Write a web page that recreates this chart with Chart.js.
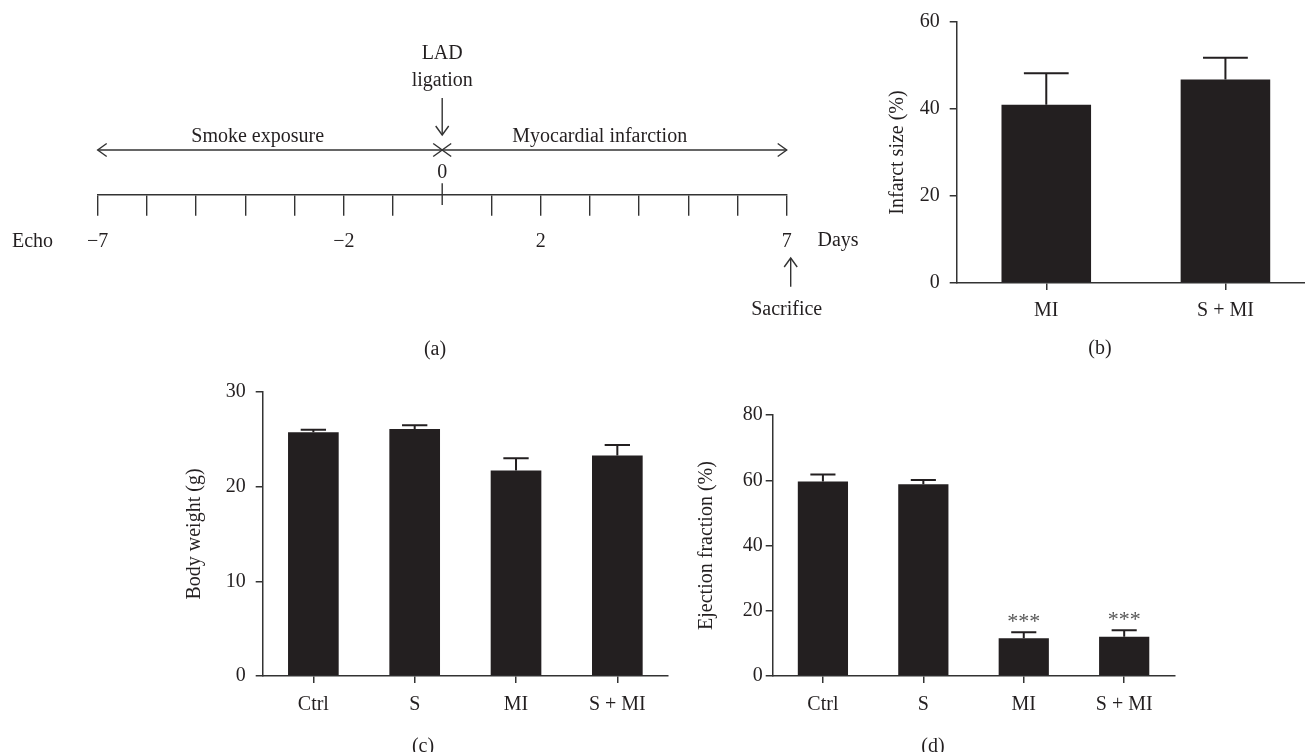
<!DOCTYPE html>
<html><head><meta charset="utf-8">
<script src="https://cdn.jsdelivr.net/npm/chart.js@4.4.1/dist/chart.umd.min.js"></script>
<style>
html,body{margin:0;padding:0;overflow:hidden;background:#fff;width:1305px;height:752px;position:relative}
canvas{position:absolute}
.cap{position:absolute;font:20px 'Liberation Serif',serif;color:#231f20;transform:translate(-50%,-50%);line-height:1;white-space:nowrap}
</style></head><body>
<canvas id="ca" width="870" height="360" style="left:0;top:0"></canvas>
<canvas id="cb" width="480" height="370" style="left:840px;top:0"></canvas>
<canvas id="cc" width="520" height="382" style="left:160px;top:370px"></canvas>
<canvas id="cd" width="520" height="382" style="left:680px;top:370px"></canvas>
<div class="cap" style="left:435px;top:348px">(a)</div>
<div class="cap" style="left:1100px;top:347px">(b)</div>
<div class="cap" style="left:423px;top:745px">(c)</div>
<div class="cap" style="left:933px;top:745px">(d)</div>
<script>
// ---- data ----
const timelineDays = [-7,-6,-5,-4,-3,-2,-1,0,1,2,3,4,5,6,7];
const labelledDays = [-7,-2,2,7];
const phaseLabels = ['Smoke exposure','Myocardial infarction'];
const phaseStart = [-7,0];
const phaseEnd = [0,7];
const phaseTextDay = [-3.75,3.2];
const ligationDay = 0;
const sacrificeDay = 7;

const infarctGroups = ['MI','S + MI'];
const infarctMean = [41.0, 46.8];
const infarctSem = [7.2, 5.0];
const infarctTicks = [0,20,40,60];

const groups = ['Ctrl','S','MI','S + MI'];
const bodyWeightMean = [25.75, 26.1, 21.7, 23.3];
const bodyWeightSem = [0.25, 0.4, 1.3, 1.1];
const bodyWeightTicks = [0,10,20,30];

const efMean = [59.6, 58.8, 11.6, 12.0];
const efSem = [2.2, 1.3, 1.8, 2.0];
const efSig = ['','','***','***'];
const efTicks = [0,20,40,60,80];

// ---- style ----
const serif = "'Liberation Serif','DejaVu Serif',serif";
const ink = '#231f20';
const axisInk = '#333333';
const font20 = {family: serif, size: 20};

function fmtDay(v){ return v < 0 ? '\u2212' + Math.abs(v) : String(v); }

function arrowHead(ctx, x, y, dx, dy){
  const L = 9, W = 6.5;
  const px = -dy, py = dx;
  ctx.beginPath();
  ctx.moveTo(x - dx*L + px*W, y - dy*L + py*W);
  ctx.lineTo(x, y);
  ctx.lineTo(x - dx*L - px*W, y - dy*L - py*W);
  ctx.stroke();
}

const timelinePlugin = {
  id: 'timeline',
  afterDraw(chart){
    const ctx = chart.ctx, xs = chart.scales.x, base = chart.chartArea.bottom;
    ctx.save();
    ctx.strokeStyle = axisInk; ctx.lineWidth = 1.4; ctx.fillStyle = ink;
    ctx.font = '20px ' + serif; ctx.textAlign = 'center'; ctx.textBaseline = 'middle';
    // day-0 tick crossing the baseline
    const x0 = xs.getPixelForValue(ligationDay);
    ctx.beginPath(); ctx.moveTo(x0, base - 11); ctx.lineTo(x0, base + 10.7); ctx.stroke();
    ctx.fillText(fmtDay(ligationDay), x0, base - 22);
    // phases
    const rowY = base - 44.3;
    phaseLabels.forEach((lab, i) => {
      const a = xs.getPixelForValue(phaseStart[i]), b = xs.getPixelForValue(phaseEnd[i]);
      ctx.beginPath(); ctx.moveTo(a, rowY); ctx.lineTo(b, rowY); ctx.stroke();
      arrowHead(ctx, a, rowY, -1, 0);
      arrowHead(ctx, b, rowY, 1, 0);
      ctx.fillText(lab, xs.getPixelForValue(phaseTextDay[i]), base - 57.5);
    });
    // LAD ligation
    ctx.fillText('LAD', x0, base - 140.5);
    ctx.fillText('ligation', x0, base - 113.5);
    ctx.beginPath(); ctx.moveTo(x0, base - 96.3); ctx.lineTo(x0, base - 59.3); ctx.stroke();
    arrowHead(ctx, x0, base - 59.3, 0, 1);
    // Sacrifice
    const x7 = xs.getPixelForValue(sacrificeDay);
    ctx.beginPath(); ctx.moveTo(x7 + 4, base + 92.4); ctx.lineTo(x7 + 4, base + 63.7); ctx.stroke();
    arrowHead(ctx, x7 + 4, base + 63.7, 0, -1);
    ctx.fillText('Sacrifice', x7, base + 115);
    // side labels
    ctx.fillText('Echo', 32.5, base + 47.5);
    ctx.fillText('Days', 838, base + 46.5);
    ctx.restore();
  }
};

new Chart(document.getElementById('ca'), {
  type: 'scatter',
  data: {datasets: [{data: timelineDays.map(d => ({x: d, y: 0})), pointRadius: 0, showLine: false}]},
  options: {
    responsive: false, animation: false,
    layout: {padding: {left: 97.7, right: 83.3, top: 20, bottom: 0}},
    plugins: {legend: {display: false}, tooltip: {enabled: false}},
    scales: {
      y: {display: false, min: 0, max: 1},
      x: {
        type: 'linear', min: -7, max: 7,
        afterBuildTicks: s => { s.ticks = timelineDays.map(v => ({value: v})); },
        afterFit: s => { s.height = 165.7; },
        border: {display: true, color: axisInk, width: 1.4},
        grid: {drawOnChartArea: false, drawTicks: true, tickLength: 21.4, lineWidth: 1.4,
               color: c => (c.tick && c.tick.value === ligationDay) ? 'rgba(0,0,0,0)' : axisInk},
        ticks: {autoSkip: false, maxRotation: 0, padding: 14, color: ink, font: font20,
                callback: v => labelledDays.includes(v) ? fmtDay(v) : ''}
      }
    }
  },
  plugins: [timelinePlugin]
});

const errPlugin = {
  id: 'errbars',
  afterDatasetsDraw(chart, args, opts){
    const meta = chart.getDatasetMeta(0), ys = chart.scales.y, ctx = chart.ctx;
    const means = chart.data.datasets[0].data;
    ctx.save();
    ctx.strokeStyle = ink; ctx.lineWidth = 2;
    meta.data.forEach((bar, i) => {
      const top = ys.getPixelForValue(means[i] + opts.sem[i]);
      const half = bar.width / 4;
      ctx.beginPath();
      ctx.moveTo(bar.x, bar.y); ctx.lineTo(bar.x, top);
      ctx.moveTo(bar.x - half, top); ctx.lineTo(bar.x + half, top);
      ctx.stroke();
      if (opts.sig && opts.sig[i]) {
        ctx.fillStyle = '#555555'; ctx.font = '22px ' + serif;
        ctx.textAlign = 'center'; ctx.textBaseline = 'middle';
        ctx.fillText(opts.sig[i], bar.x, top - 10);
      }
    });
    ctx.restore();
  }
};

function barChart(id, labels, means, sem, sig, ticks, title, g){
  return new Chart(document.getElementById(id), {
    type: 'bar',
    data: {labels: labels, datasets: [{data: means, backgroundColor: ink, borderWidth: 0,
           barPercentage: 1, categoryPercentage: 0.5}]},
    options: {
      responsive: false, animation: false,
      layout: {padding: {left: 0, right: g.padRight, top: g.padTop, bottom: 0}},
      plugins: {legend: {display: false}, tooltip: {enabled: false}, errbars: {sem: sem, sig: sig}},
      scales: {
        x: {
          afterFit: s => { s.height = g.xAxisHeight; },
          border: {display: true, color: axisInk, width: 1.5},
          grid: {offset: false, drawOnChartArea: false, tickLength: 7, color: axisInk, lineWidth: 1.5},
          ticks: {color: ink, font: font20, padding: g.xTickPad, maxRotation: 0}
        },
        y: {
          min: ticks[0], max: ticks[ticks.length - 1],
          afterBuildTicks: s => { s.ticks = ticks.map(v => ({value: v})); },
          afterFit: s => { s.width = g.yAxisWidth; },
          border: {display: true, color: axisInk, width: 1.5},
          grid: {drawOnChartArea: false, tickLength: 7, color: axisInk, lineWidth: 1.5},
          ticks: {color: ink, font: font20, padding: g.yTickPad},
          title: {display: true, text: title, color: ink, font: font20, padding: {top: g.titlePad, bottom: 0}}
        }
      }
    },
    plugins: [errPlugin]
  });
}

barChart('cb', infarctGroups, infarctMean, infarctSem, null, infarctTicks, 'Infarct size (%)',
  {padTop: 20, padRight: 5, yAxisWidth: 116.7, xAxisHeight: 87, titlePad: 46, yTickPad: 10, xTickPad: 9});
barChart('cc', groups, bodyWeightMean, bodyWeightSem, null, bodyWeightTicks, 'Body weight (g)',
  {padTop: 15.7, padRight: 12, yAxisWidth: 102.7, xAxisHeight: 76, titlePad: 23, yTickPad: 10, xTickPad: 10});
barChart('cd', groups, efMean, efSem, efSig, efTicks, 'Ejection fraction (%)',
  {padTop: 45, padRight: 25.6, yAxisWidth: 92.7, xAxisHeight: 76, titlePad: 14.7, yTickPad: 3, xTickPad: 10});
</script>
</body></html>
